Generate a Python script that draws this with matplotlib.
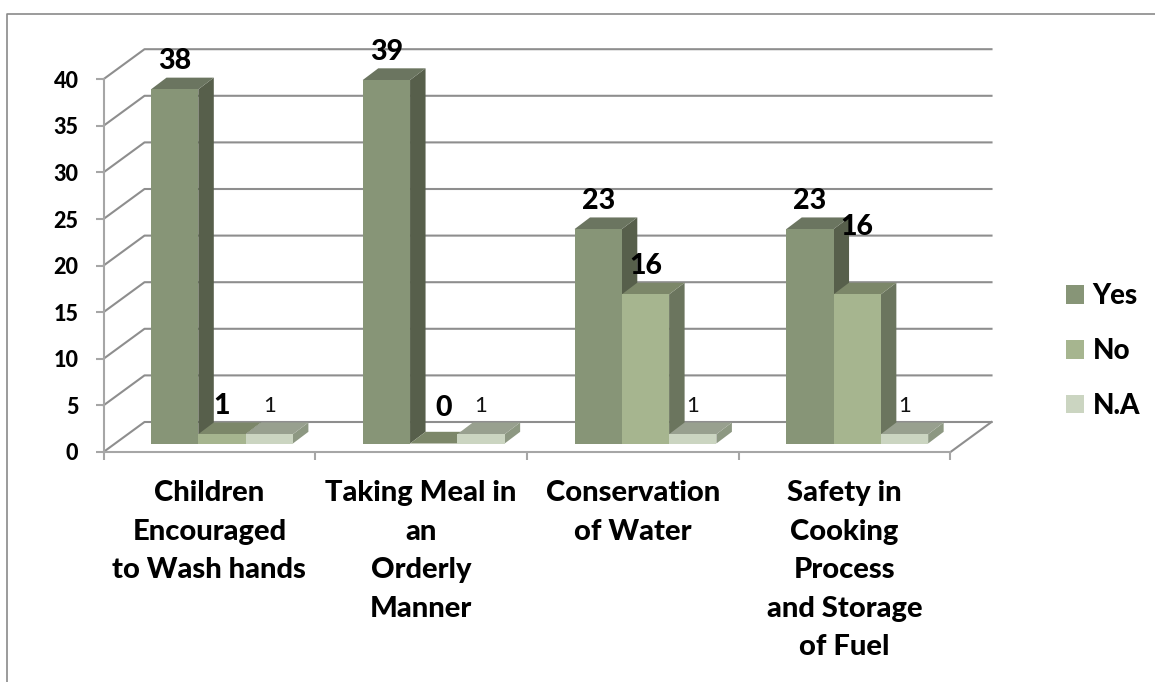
import matplotlib
matplotlib.use('Agg')
import matplotlib.pyplot as plt
from matplotlib.lines import Line2D
from matplotlib.patches import Patch, Polygon

plt.rcParams['font.family'] = ['Lato', 'DejaVu Sans']

categories = ['Children\nEncouraged\nto Wash hands',
              'Taking Meal in\nan\nOrderly\nManner',
              'Conservation\nof Water',
              'Safety in\nCooking\nProcess\nand Storage\nof Fuel']
yes_values = [38, 39, 23, 23]
no_values = [1, 0, 16, 16]
na_values = [1, 1, 1, 1]
series_names = ['Yes', 'No', 'N.A']
y_ticks = [0, 5, 10, 15, 20, 25, 30, 35, 40]

front_colors = ['#879577', '#a6b58f', '#cbd5c1']
top_colors = ['#6b7560', '#7c8769', '#98a08f']
side_colors = ['#575f4b', '#6b755e', '#8d9882']
grid_color = '#8e8e8e'
axis_color = '#a6a6a6'
heavy = 'black'

W, H = 1155, 682
x_px = 847 / 4
y_px = 372.8 / 40
# 3d look, sizes in pixels turned into data units
wall_dx, wall_dy = 41 / x_px, 30 / y_px
bar_dx, bar_dy = 15.5 / x_px, 11.7 / y_px
bar_w = 47.3 / x_px
bar_start = 47.5 / x_px
floor = 8.5 / y_px
label_up = 28 / y_px

fig = plt.figure(figsize=(W / 100, H / 100), dpi=100)
ax = fig.add_axes([103.5 / W, (H - 452) / H, 847 / W, 372.8 / H])
ax.set_xlim(0, 4)
ax.set_ylim(0, 40)
ax.set_autoscale_on(False)

# outer frame, open at right and bottom
fig.add_artist(Line2D([6.5 / W, 6.5 / W, 1], [0, 1 - 13.5 / H, 1 - 13.5 / H],
                      transform=fig.transFigure, color='#8a8a8a', lw=1.2))

# back wall and left wall
for v in y_ticks:
    ax.plot([0, wall_dx, 4 + wall_dx], [v, v + wall_dy, v + wall_dy],
            color=grid_color, lw=1.5, clip_on=False, zorder=1)
ax.plot([4, 4 + wall_dx], [0, wall_dy], color=grid_color, lw=1.5, clip_on=False, zorder=1)

for i in range(len(categories)):
    values = [yes_values[i], no_values[i], na_values[i]]
    for j, v in enumerate(values):
        x0 = i + bar_start + j * bar_w
        x1 = x0 + bar_w
        y1 = floor + v
        side = [(x1, floor), (x1 + bar_dx, floor + bar_dy), (x1 + bar_dx, y1 + bar_dy), (x1, y1)]
        top = [(x0, y1), (x0 + bar_dx, y1 + bar_dy), (x1 + bar_dx, y1 + bar_dy), (x1, y1)]
        ax.add_patch(Polygon(side, color=side_colors[j], lw=0, clip_on=False, zorder=3))
        ax.add_patch(Polygon(top, color=top_colors[j], lw=0, clip_on=False, zorder=3))
        ax.bar(x0, v, bar_w, bottom=floor, align='edge', color=front_colors[j], lw=0,
               clip_on=False, zorder=3)

# data labels drawn last so they sit over the bars
for i in range(len(categories)):
    values = [yes_values[i], no_values[i], na_values[i]]
    for j, v in enumerate(values):
        xc = i + bar_start + (j + 0.5) * bar_w
        yc = floor + v + label_up
        if i == 3 and j == 1:
            yc += 39 / y_px  # this one was moved up in the original
        if i == 1 and j == 1:
            xc += 10 / x_px  # same for the 0
            yc += 8 / y_px
        if j == 2:
            ax.text(xc, yc, str(v), ha='center', va='center', fontsize=16,
                    color='#111111', clip_on=False, zorder=5)
        else:
            ax.text(xc, yc, str(v), ha='center', va='center', fontsize=20.5,
                    fontweight=heavy, color='black', clip_on=False, zorder=5)

for s in ['top', 'right']:
    ax.spines[s].set_visible(False)
for s in ['left', 'bottom']:
    ax.spines[s].set_color(axis_color)
    ax.spines[s].set_linewidth(1.5)

ax.set_yticks(y_ticks)
ax.set_yticklabels([str(v) for v in y_ticks], fontsize=15.5, fontweight=heavy)
ax.tick_params(axis='y', length=6, width=1.5, color=axis_color, pad=12)

ax.set_xticks(range(5))
ax.set_xticklabels([''] * 5)
ax.tick_params(axis='x', which='major', length=6, width=1.5, color=axis_color)
ax.set_xticks([i + 0.5 for i in range(len(categories))], minor=True)
ax.set_xticklabels(categories, minor=True, fontsize=21, fontweight=heavy, linespacing=1.59,
                   va='top')
ax.tick_params(axis='x', which='minor', length=0, pad=20.5)

handles = [Patch(color=c, lw=0) for c in front_colors]
fig.legend(handles, series_names, loc='center left', bbox_to_anchor=(1058 / W, 1 - 351 / H),
           frameon=False, prop={'size': 20, 'weight': heavy}, handlelength=0.65,
           handleheight=0.65, handletextpad=0.3, labelspacing=1.03, borderpad=0.3, borderaxespad=0)

fig.savefig('out.png', dpi=100)
